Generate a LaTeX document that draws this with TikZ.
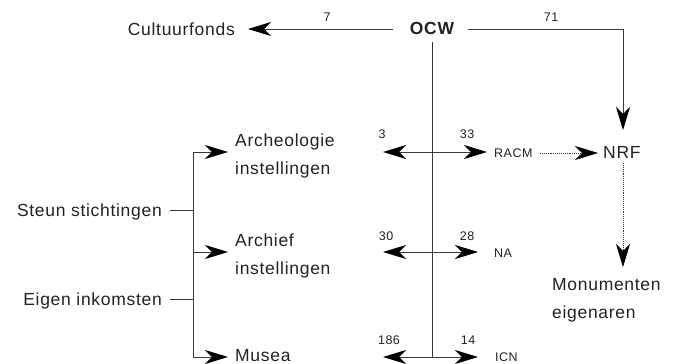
\documentclass[tikz,border=0pt]{standalone}
\usepackage{fontspec}
\setmainfont{Liberation Sans}[LetterSpace=4]
\usetikzlibrary{arrows.meta}
\definecolor{ink}{HTML}{222222}
\definecolor{ln}{HTML}{3A3A3A}
\begin{document}
\begin{tikzpicture}[x=1pt,y=-1pt,
  big/.style={font=\fontsize{17.5}{28}\selectfont, text=ink, inner sep=0pt, align=left},
  small/.style={font=\fontsize{12.5}{14}\selectfont, text=ink, inner sep=0pt},
  conn/.style={draw=ln, line width=0.9pt},
  tip/.style={-{Stealth[length=23pt,width=14pt,inset=7pt,color=black]}},
  twotip/.style={{Stealth[length=23pt,width=14pt,inset=7pt,color=black]}-{Stealth[length=23pt,width=14pt,inset=7pt,color=black]}},
  dots/.style={densely dotted, line width=0.8pt}
]
\useasboundingbox (0,0) rectangle (675,364);

% nodes
\node[big, anchor=north east] (cult) at (235,22.5) {Cultuurfonds};
\node[big, anchor=north, font=\fontsize{17.5}{28}\selectfont\bfseries] (ocw) at (432,22.5) {OCW};
\node[small, anchor=north] (n7) at (327,12.5) {7};
\node[small, anchor=north] (n71) at (551,12.5) {71};
\node[big, anchor=north west] (arch) at (235,133.5) {Archeologie\\instellingen};
\node[big, anchor=north west] (archief) at (235,233.5) {Archief\\instellingen};
\node[big, anchor=north west] (musea) at (235,349.5) {Musea};
\node[big, anchor=north east] (steun) at (162,203.5) {Steun stichtingen};
\node[big, anchor=north east] (eigen) at (162,292.5) {Eigen inkomsten};
\node[small, anchor=north] (n3) at (382,129.5) {3};
\node[small, anchor=north] (n33) at (467,129.5) {33};
\node[small, anchor=north west] (racm) at (494,148.5) {RACM};
\node[big, anchor=north west] (nrf) at (603,146.5) {NRF};
\node[small, anchor=north] (n30) at (386,231.5) {30};
\node[small, anchor=north] (n28) at (467,231.5) {28};
\node[small, anchor=north west] (na) at (494,248.5) {NA};
\node[small, anchor=north] (n186) at (389,335.5) {186};
\node[small, anchor=north] (n14) at (468,335.5) {14};
\node[small, anchor=north west] (icn) at (495,352.5) {ICN};
\node[big, anchor=north west] (mon) at (552,278.5) {Monumenten\\eigenaren};

% coordinates
\coordinate (ocwL) at (393,29);
\coordinate (cultTip) at (248,29);
\coordinate (ocwR) at (468,29);
\coordinate (k71) at (623,29);
\coordinate (nrfTop) at (623,130);
\coordinate (ocwB) at (432,42);
\coordinate (ocwBot) at (432,357);
\coordinate (r1L) at (383,152);
\coordinate (r1R) at (487,152);
\coordinate (r2L) at (383,252);
\coordinate (r2R) at (478,252);
\coordinate (r3L) at (383,357);
\coordinate (r3R) at (478,357);
\coordinate (racmE) at (540,153);
\coordinate (nrfW) at (598,153);
\coordinate (nrfB) at (623,163);
\coordinate (monTop) at (623,267);
\coordinate (steunE) at (170,210);
\coordinate (bs) at (193,210);
\coordinate (eigenE) at (170,299);
\coordinate (be) at (193,299);
\coordinate (b1) at (193,152);
\coordinate (b2) at (193,252);
\coordinate (b3) at (193,357);
\coordinate (archTip) at (228,152);
\coordinate (archiefTip) at (228,252);
\coordinate (museaTip) at (228,357);

% connectors
\draw[conn,tip] (ocwL) -- (cultTip);
\draw[conn,tip] (ocwR) -- (k71) -- (nrfTop);
\draw[conn] (ocwB) -- (ocwBot);
\draw[conn,twotip] (r1L) -- (r1R);
\draw[conn,twotip] (r2L) -- (r2R);
\draw[conn,twotip] (r3L) -- (r3R);
\draw[conn,dots,tip] (racmE) -- (nrfW);
\draw[conn,dots,tip] (nrfB) -- (monTop);
\draw[conn] (steunE) -- (bs);
\draw[conn] (eigenE) -- (be);
\draw[conn] (b1) -- (b3);
\draw[conn,tip] (b1) -- (archTip);
\draw[conn,tip] (b2) -- (archiefTip);
\draw[conn,tip] (b3) -- (museaTip);
\end{tikzpicture}
\end{document}
